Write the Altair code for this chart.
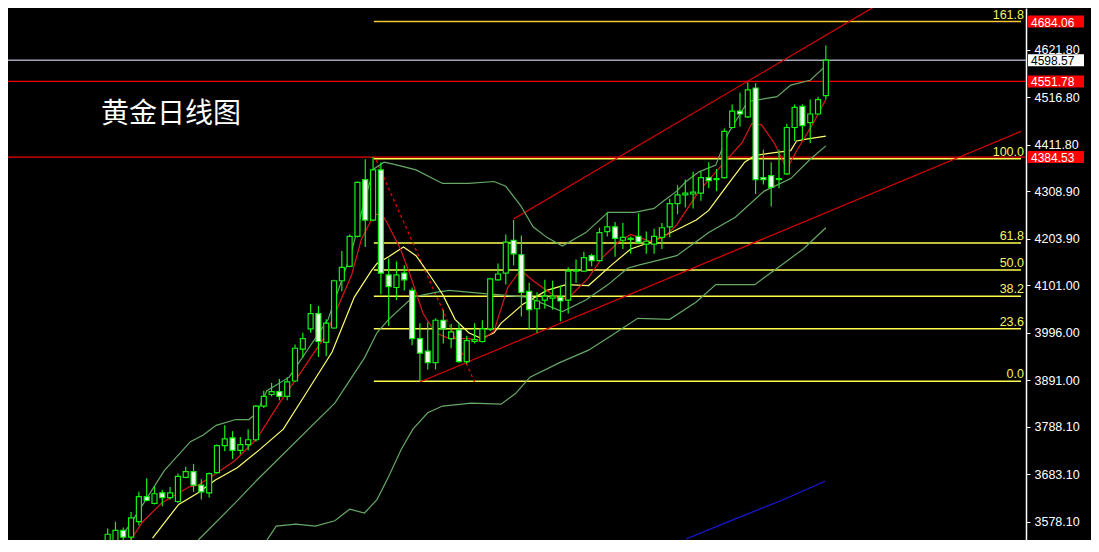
import altair as alt
import pandas as pd

# ---------------- data ----------------
# daily candles, index 0..92 (oldest -> newest)
opens = [3529.7, 3529.7, 3559.5, 3544.6, 3578.7, 3634.1, 3619.2, 3642.6, 3632.0, 3623.4,
         3676.7, 3689.5, 3659.6, 3642.6, 3687.3, 3747.0, 3764.0, 3736.3, 3749.1, 3759.8,
         3834.3, 3859.9, 3866.3, 3855.6, 3889.7, 3960.0, 4004.7, 4038.8, 3974.9, 4006.8,
         4111.2, 4143.2, 4209.2, 4334.9, 4245.4, 4356.2, 4124.0, 4096.3, 4128.2, 4089.9,
         3983.4, 3955.7, 3930.2, 4023.9, 3983.4, 4002.6, 3932.3, 3977.0, 3977.0, 4004.7,
         4113.3, 4128.2, 4200.7, 4168.7, 4087.8, 4049.4, 4068.6, 4072.9, 4075.0, 4068.6,
         4132.5, 4132.5, 4166.6, 4155.9, 4219.8, 4230.5, 4200.7, 4202.8, 4209.2, 4192.1,
         4192.1, 4207.1, 4230.5, 4281.6, 4300.8, 4302.9, 4305.0, 4339.1, 4334.9, 4339.1,
         4449.9, 4486.1, 4473.3, 4537.2, 4339.1, 4343.4, 4334.9, 4347.6, 4449.9, 4496.7,
         4460.5, 4479.7, 4520.2]
highs = [3563.8, 3578.7, 3565.9, 3600.0, 3644.7, 3674.6, 3657.5, 3649.0, 3655.4, 3685.2,
         3700.1, 3706.5, 3672.4, 3687.3, 3749.1, 3791.7, 3778.9, 3766.1, 3783.2, 3836.4,
         3868.4, 3885.4, 3893.9, 3898.2, 3970.6, 3996.2, 4060.1, 4055.8, 4026.0, 4113.3,
         4177.2, 4213.4, 4330.6, 4379.6, 4384.5, 4373.2, 4160.2, 4153.8, 4145.3, 4096.3,
         4017.5, 4019.6, 4028.1, 4047.3, 4015.4, 4017.5, 3989.8, 4017.5, 4023.9, 4117.6,
         4149.5, 4213.4, 4245.4, 4211.3, 4106.9, 4085.6, 4113.3, 4111.2, 4100.6, 4141.0,
         4158.1, 4175.1, 4170.8, 4228.4, 4262.4, 4241.1, 4239.0, 4209.2, 4260.3, 4219.8,
         4226.2, 4239.0, 4292.3, 4322.1, 4334.9, 4351.9, 4351.9, 4373.2, 4358.3, 4447.7,
         4501.0, 4526.6, 4550.0, 4547.9, 4400.9, 4373.2, 4400.9, 4458.4, 4501.0, 4501.0,
         4511.6, 4518.0, 4630.9]
lows = [3521.2, 3521.2, 3538.2, 3538.2, 3570.2, 3623.4, 3617.0, 3612.8, 3627.7, 3620.0,
        3674.6, 3644.7, 3627.7, 3632.0, 3685.2, 3734.2, 3717.2, 3727.8, 3736.3, 3755.5,
        3830.0, 3855.6, 3847.1, 3847.1, 3887.6, 3940.8, 3996.2, 3942.9, 3945.1, 4004.7,
        4087.8, 4141.0, 4207.1, 4185.8, 4243.0, 4081.4, 4011.1, 4068.6, 4089.9, 3968.5,
        3891.0, 3915.2, 3915.2, 3972.8, 3962.1, 3930.2, 3928.0, 3972.8, 3974.9, 4000.4,
        4111.2, 4102.7, 4145.3, 4032.4, 4004.7, 3996.2, 4049.4, 4047.3, 4021.7, 4038.8,
        4106.9, 4130.4, 4143.2, 4153.8, 4209.2, 4164.5, 4181.5, 4170.8, 4192.1, 4170.8,
        4170.8, 4181.5, 4207.1, 4258.2, 4273.1, 4271.0, 4288.0, 4315.7, 4309.3, 4337.0,
        4447.7, 4452.0, 4471.0, 4302.9, 4324.2, 4275.2, 4315.7, 4345.5, 4420.1, 4422.2,
        4415.8, 4477.6, 4511.6]
closes = [3551.0, 3559.5, 3544.6, 3587.2, 3634.1, 3625.6, 3640.5, 3632.0, 3642.6, 3678.8,
          3689.5, 3659.6, 3644.7, 3685.2, 3747.0, 3761.9, 3736.3, 3749.1, 3759.8, 3834.3,
          3855.6, 3866.3, 3855.6, 3887.6, 3962.1, 3983.4, 4038.8, 3977.0, 4017.5, 4111.2,
          4141.0, 4209.2, 4328.5, 4245.4, 4356.2, 4128.2, 4098.4, 4124.0, 4113.3, 3983.4,
          3951.5, 3930.2, 4023.9, 4004.7, 3998.3, 3932.3, 3979.1, 3981.3, 4004.7, 4115.5,
          4126.1, 4196.4, 4170.8, 4085.6, 4047.3, 4066.5, 4077.1, 4077.1, 4066.5, 4132.5,
          4134.6, 4162.3, 4155.9, 4217.7, 4230.5, 4204.9, 4207.1, 4204.9, 4196.4, 4198.5,
          4209.2, 4228.4, 4281.6, 4300.8, 4305.0, 4307.2, 4339.1, 4332.7, 4337.0, 4441.4,
          4486.1, 4479.7, 4532.9, 4334.9, 4334.9, 4317.8, 4337.0, 4449.9, 4494.6, 4454.1,
          4479.7, 4511.6, 4598.6]

# indicator lines (candle index, price)
ma5_idx = [2.25, 3.1, 4.5, 7.0, 10.4, 11.6, 13.5, 16.25, 19.1, 22.0, 25.0, 27.9, 31.25, 32.5,
           34.1, 35.0, 35.75, 37.5, 38.75, 40.4, 42.0, 43.75, 46.25, 47.9, 49.5, 51.25, 52.9,
           54.5, 56.25, 58.1, 59.5, 61.6, 63.25, 65.4, 67.0, 69.5, 71.25, 72.9, 75.75, 78.25,
           81.25, 82.5, 83.75, 85.4, 87.0, 88.25, 90.4, 92.0]
ma5_val = [3521.2, 3542.5, 3578.7, 3621.3, 3655.4, 3659.6, 3680.9, 3712.9, 3761.9, 3840.7,
           3915.2, 3989.8, 4124.0, 4202.8, 4256.1, 4260.3, 4241.1, 4181.5, 4124.0, 4038.8,
           3996.2, 3983.4, 3983.4, 3979.1, 4000.4, 4096.3, 4134.6, 4111.2, 4089.9, 4068.6,
           4081.4, 4117.6, 4160.2, 4196.4, 4213.4, 4198.5, 4207.1, 4234.8, 4309.3, 4358.3,
           4415.8, 4458.4, 4456.3, 4415.8, 4358.3, 4398.0, 4460.0, 4512.0]
ma10_idx = [5.75, 9.1, 11.6, 13.75, 16.6, 19.5, 22.5, 25.4, 28.75, 31.6, 33.75, 34.5, 36.0,
            37.9, 39.5, 41.25, 42.9, 44.5, 46.25, 47.9, 49.5, 50.4, 53.25, 56.25, 58.75, 61.6,
            64.5, 67.0, 69.5, 72.9, 75.4, 77.0, 79.1, 81.6, 82.9, 85.4, 87.5, 88.25, 89.5, 92.0]
ma10_val = [3542.5, 3617.0, 3642.6, 3670.3, 3698.0, 3738.5, 3783.2, 3862.0, 3953.6, 4075.0,
            4132.5, 4149.5, 4164.5, 4185.8, 4166.6, 4124.0, 4081.4, 4026.0, 3996.2, 3983.4,
            3996.2, 4017.5, 4060.1, 4089.9, 4102.7, 4100.6, 4145.3, 4181.5, 4196.4, 4224.1,
            4245.4, 4266.7, 4315.7, 4373.2, 4388.1, 4394.5, 4398.8, 4420.1, 4424.3, 4430.7]
bb_up_idx = [2.25, 3.9, 7.25, 10.6, 12.25, 13.9, 16.4, 18.1, 19.1, 20.4, 23.25, 28.25, 31.25,
             32.9, 34.1, 35.4, 36.6, 39.5, 42.9, 46.25, 49.5, 51.0, 52.9, 54.5, 56.25, 58.25,
             61.25, 64.1, 67.5, 70.0, 71.25, 72.9, 74.1, 75.75, 77.9, 79.5, 82.0, 85.75, 87.5,
             90.0, 91.6, 92.0]
bb_up_val = [3557.4, 3600.0, 3691.6, 3755.5, 3770.4, 3791.7, 3804.5, 3804.5, 3819.4, 3868.4,
             3898.2, 4026.0, 4175.1, 4288.0, 4358.3, 4373.2, 4368.9, 4356.2, 4326.3, 4326.3,
             4330.6, 4320.0, 4277.4, 4230.5, 4207.1, 4187.9, 4217.7, 4262.4, 4262.4, 4271.0,
             4288.0, 4309.3, 4330.6, 4351.9, 4366.8, 4437.1, 4507.4, 4518.0, 4543.6, 4554.3,
             4579.8, 4590.5]
bb_mid_idx = [11.6, 16.4, 19.1, 29.1, 32.9, 34.5, 36.0, 39.1, 42.0, 43.75, 47.9, 53.75, 58.25,
              61.25, 64.1, 66.6, 67.9, 72.9, 77.0, 80.4, 84.1, 87.5, 90.0, 92.0]
bb_mid_val = [3538.2, 3621.3, 3670.3, 3840.7, 3940.8, 3996.2, 4026.0, 4075.0, 4085.6, 4089.9,
              4083.5, 4075.0, 4043.1, 4068.6, 4102.7, 4138.9, 4145.3, 4166.6, 4217.7, 4251.8,
              4309.3, 4337.0, 4379.6, 4409.4]
bb_low_idx = [19.75, 21.6, 24.1, 26.6, 29.1, 31.0, 32.9, 34.5, 36.0, 37.6, 39.1, 41.0, 42.9,
              46.6, 50.4, 52.25, 54.1, 57.9, 61.6, 64.5, 67.9, 72.0, 75.4, 77.9, 82.9, 86.6,
              89.1, 92.0]
bb_low_val = [3521.2, 3568.9, 3573.2, 3568.9, 3580.8, 3606.4, 3597.9, 3627.7, 3678.8, 3738.5,
              3783.2, 3819.4, 3834.3, 3840.7, 3838.6, 3862.0, 3898.2, 3930.2, 3957.9, 3989.8,
              4028.1, 4026.0, 4064.4, 4102.7, 4102.7, 4149.5, 4181.5, 4228.4]
long_ma_idx = [74.1, 80.4, 86.6, 91.9]
long_ma_val = [3540.4, 3585.1, 3627.7, 3668.2]

# trend channel and fibonacci swing line
chan_up_idx = [52.0, 100.0]
chan_up_val = [4247.5, 4735.0]
chan_low_idx = [40.0, 117.0]
chan_low_val = [3887.6, 4441.4]
swing_idx = [34.4, 47.0]
swing_val = [4377.5, 3887.6]

# fibonacci levels
fib_labels = ["0.0", "23.6", "38.2", "50.0", "61.8", "100.0", "161.8"]
fib_values = [3889.0, 4005.0, 4077.0, 4135.0, 4194.5, 4381.0, 4684.06]
fib_start = 34.1

# price marker lines on the right
marker_values = [4684.06, 4598.57, 4551.78, 4384.53]
marker_texts = ["4684.06", "4598.57", "4551.78", "4384.53"]
marker_box = ["#ff0000", "#ffffff", "#ff0000", "#ff0000"]
marker_text_color = ["#ffffff", "#000000", "#ffffff", "#ffffff"]
full_lines = [4598.57, 4551.78, 4384.53]
full_line_colors = ["#a4a4b8", "#ee0000", "#ee0000"]

axis_ticks = [3578.10, 3683.10, 3788.10, 3891.00, 3996.00, 4101.00, 4203.90, 4308.90,
              4411.80, 4516.80, 4621.80]
title_text = "黄金日线图"

# ---------------- chart ----------------
W, H = 1018, 532
X_DOM = [-12.125, 117.0]
Y_DOM = [3538.3, 4714.0]
xs = alt.Scale(domain=X_DOM, nice=False, zero=False)
ys = alt.Scale(domain=Y_DOM, nice=False, zero=False)
GREEN = "#14f014"
BB = "#66a866"

cd = pd.DataFrame({"i": list(range(len(opens))), "o": opens, "h": highs, "l": lows, "c": closes})
cd["up"] = cd["c"] >= cd["o"]


def line_df(name, idx, val):
    return pd.DataFrame({"i": idx, "v": val, "name": name})


def line_layer(df, color, width=1.2, dash=None):
    kw = dict(color=color, strokeWidth=width, clip=True)
    if dash:
        kw["strokeDash"] = dash
    return alt.Chart(df).mark_line(**kw).encode(
        x=alt.X("i:Q", scale=xs, axis=None),
        y=alt.Y("v:Q", scale=ys),
        order="i:Q",
    )


yaxis = alt.Axis(orient="right", values=axis_ticks, format=".2f", labelColor="white",
                 tickColor="white", domainColor="white", tickSize=4, labelPadding=4,
                 labelFont="Liberation Sans", labelFontSize=12.5, grid=False, title=None,
                 labelOverlap=False, domainWidth=1.5)

# full width horizontal lines
fl = pd.DataFrame({"v": full_lines, "col": full_line_colors})
full_rules = alt.Chart(fl).mark_rule(strokeWidth=1.4).encode(
    y=alt.Y("v:Q", scale=ys, axis=yaxis),
    color=alt.Color("col:N", scale=None),
)

fib = pd.DataFrame({"v": fib_values, "lab": fib_labels, "x0": fib_start, "x1": X_DOM[1]})
fib["col"] = ["#ffff50"] * 6 + ["#ffc830"]
fib_rules = alt.Chart(fib).mark_rule(strokeWidth=1.4).encode(
    x=alt.X("x0:Q", scale=xs, axis=None), x2="x1:Q",
    y=alt.Y("v:Q", scale=ys),
    color=alt.Color("col:N", scale=None),
)
fib_text = alt.Chart(fib).mark_text(align="right", baseline="bottom", dy=0,
                                    font="Liberation Sans", fontSize=12.5,
                                    color="#f4f460").encode(
    x=alt.value(W - 2), y=alt.Y("v:Q", scale=ys), text="lab:N")

layers = [full_rules, fib_rules, fib_text]

layers.append(line_layer(line_df("up", chan_up_idx, chan_up_val), "#e00000"))
layers.append(line_layer(line_df("low", chan_low_idx, chan_low_val), "#e00000"))
layers.append(line_layer(line_df("swing", swing_idx, swing_val), "#e00000", 1.3, [3, 3]))
layers.append(line_layer(line_df("bbu", bb_up_idx, bb_up_val), BB))
layers.append(line_layer(line_df("bbm", bb_mid_idx, bb_mid_val), BB))
layers.append(line_layer(line_df("bbl", bb_low_idx, bb_low_val), BB))
layers.append(line_layer(line_df("long", long_ma_idx, long_ma_val), "#1818e0"))
layers.append(line_layer(line_df("ma10", ma10_idx, ma10_val), "#ffff70"))
layers.append(line_layer(line_df("ma5", ma5_idx, ma5_val), "#d81818"))

wicks = alt.Chart(cd).mark_rule(color=GREEN, strokeWidth=1.2, clip=True).encode(
    x=alt.X("i:Q", scale=xs, axis=None),
    y=alt.Y("l:Q", scale=ys), y2="h:Q")
bodies = alt.Chart(cd).mark_bar(size=5, stroke=GREEN, strokeWidth=1.2, clip=True).encode(
    x=alt.X("i:Q", scale=xs, axis=None),
    y=alt.Y("o:Q", scale=ys), y2="c:Q",
    fill=alt.condition("datum.up", alt.value("#000000"), alt.value("#eeffee")))
layers += [wicks, bodies]

mk = pd.DataFrame({"v": marker_values, "t": marker_texts, "box": marker_box,
                   "tc": marker_text_color})
boxes = alt.Chart(mk).mark_rule(strokeWidth=12, strokeCap="butt").encode(
    x=alt.value(W + 2), x2=alt.value(W + 58),
    y=alt.Y("v:Q", scale=ys),
    color=alt.Color("box:N", scale=None))
box_text = alt.Chart(mk).mark_text(align="left", baseline="middle", font="Liberation Sans",
                                   fontSize=12, dy=1).encode(
    x=alt.value(W + 5), y=alt.Y("v:Q", scale=ys), text="t:N",
    color=alt.Color("tc:N", scale=None))
layers += [boxes, box_text]

tdf = pd.DataFrame({"t": [title_text]})
title = alt.Chart(tdf).mark_text(align="left", baseline="middle", font="Noto Sans CJK SC",
                                 fontSize=28, color="white").encode(
    x=alt.value(93), y=alt.value(107), text="t:N")
layers.append(title)

chart = alt.layer(*layers).properties(
    width=W, height=H,
    autosize=alt.AutoSizeParams(type="none"),
    padding={"left": 0, "top": 0, "right": 65, "bottom": 0},
    background="#000000",
).configure_view(stroke=None)

chart.save("out.html", embed_options={"renderer": "svg", "actions": False})
